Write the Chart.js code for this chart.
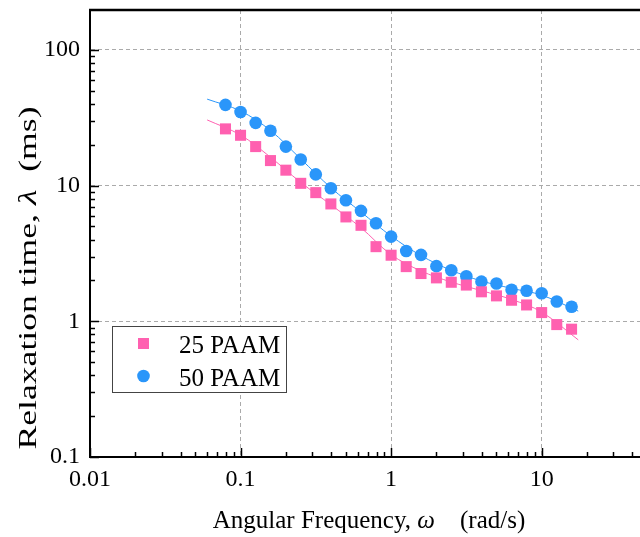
<!DOCTYPE html>
<html>
<head>
<meta charset="utf-8">
<script src="https://cdn.jsdelivr.net/npm/chart.js@4"></script>
<style>
  body { margin: 0; background: #fff; }
  canvas { display: block; }
</style>
</head>
<body>
<canvas id="relax-chart" width="640" height="537"></canvas>
<script>
// angular frequency of the measured points (rad/s)
var omega = [0.0794, 0.1, 0.126, 0.158, 0.2, 0.251, 0.316, 0.398, 0.501, 0.631, 0.794,
             1, 1.26, 1.58, 2, 2.51, 3.16, 3.98, 5.01, 6.31, 7.94, 10, 12.6, 15.8];
var paam25 = [26.2, 23.5, 19.4, 15.3, 13.0, 10.4, 8.88, 7.33, 5.88, 5.10, 3.55,
              3.07, 2.53, 2.25, 2.09, 1.94, 1.85, 1.65, 1.54, 1.43, 1.32, 1.16, 0.946, 0.875];
var paam50 = [39.4, 34.9, 29.0, 25.4, 19.4, 15.6, 12.1, 9.57, 7.80, 6.52, 5.28,
              4.21, 3.30, 3.09, 2.55, 2.38, 2.15, 1.96, 1.90, 1.71, 1.68, 1.61, 1.40, 1.28];

// fitted curves
var fitOmega = [0.06, 0.1, 0.158, 0.25, 0.4, 0.63, 1, 1.58, 2.5, 4, 6.3, 10, 17.5];
var fit25 = [30.5, 23.6, 16.2, 10.6, 7.2, 4.9, 3.1, 2.35, 1.95, 1.68, 1.45, 1.17, 0.73];
var fit50 = [43.4, 35.5, 25.5, 15.8, 9.6, 6.4, 4.25, 3.05, 2.38, 1.98, 1.75, 1.56, 1.19];

var xMajor = [0.01, 0.1, 1, 10];
var yMajor = [0.1, 1, 10, 100];

var PINK = '#FF60B0';
var BLUE = '#2A96FA';
var SERIF = "'Liberation Serif', 'Times New Roman', serif";

function pairs(xs, ys) {
    return xs.map(function(x, i) { return { x: x, y: ys[i] }; });
}

// 1..9 x each decade, kept inside the axis range
function logTicks(min, max) {
    var out = [];
    for (var e = -3; e <= 3; e++) {
        for (var m = 1; m <= 9; m++) {
            var v = parseFloat((m * Math.pow(10, e)).toPrecision(3));
            if (v >= min - 1e-9 && v <= max + 1e-9) out.push(v);
        }
    }
    return out;
}

function isMajor(v, list) {
    return list.some(function(m) { return Math.abs(v - m) < m * 1e-6; });
}

// no extra room for the end labels, the plot box is fixed
function noPad(s) {
    s.paddingTop = 0; s.paddingBottom = 0;
    s.paddingLeft = 0; s.paddingRight = 0;
}

var framePlugin = {
    id: 'frame',
    afterDraw: function(chart) {
        var ctx = chart.ctx;
        var a = chart.chartArea;
        var xs = chart.scales.x, ys = chart.scales.y;
        ctx.save();

        // inward tick marks
        ctx.strokeStyle = '#000';
        ctx.lineWidth = 1.5;
        xs.ticks.forEach(function(t) {
            var px = Math.round(xs.getPixelForValue(t.value)) + 0.5;
            var len = isMajor(t.value, xMajor) ? 9 : 5;
            ctx.beginPath();
            ctx.moveTo(px, a.bottom);
            ctx.lineTo(px, a.bottom - len);
            ctx.stroke();
        });
        ys.ticks.forEach(function(t) {
            var py = Math.round(ys.getPixelForValue(t.value)) + 0.5;
            var len = isMajor(t.value, yMajor) ? 9 : 5;
            ctx.beginPath();
            ctx.moveTo(a.left, py);
            ctx.lineTo(a.left + len, py);
            ctx.stroke();
        });

        // top border
        ctx.lineWidth = 2.5;
        ctx.beginPath();
        ctx.moveTo(a.left - 1, a.top);
        ctx.lineTo(a.right, a.top);
        ctx.stroke();

        // legend box
        ctx.fillStyle = '#fff';
        ctx.fillRect(112.5, 326.5, 174, 66);
        ctx.lineWidth = 1;
        ctx.strokeStyle = '#444';
        ctx.strokeRect(112.5, 326.5, 174, 66);
        ctx.fillStyle = PINK;
        ctx.fillRect(138, 338, 11, 11);
        ctx.fillStyle = BLUE;
        ctx.beginPath();
        ctx.arc(143.5, 376, 6.3, 0, Math.PI * 2);
        ctx.fill();
        ctx.fillStyle = '#000';
        ctx.font = '25px ' + SERIF;
        ctx.textBaseline = 'alphabetic';
        ctx.textAlign = 'left';
        ctx.fillText('25 PAAM', 179, 352.5);
        ctx.fillText('50 PAAM', 179, 385.5);

        // axis titles with italic symbols
        function measureParts(parts) {
            var total = 0;
            parts.forEach(function(p) {
                ctx.font = (p[1] ? 'italic ' : '') + '25px ' + SERIF;
                p.w = ctx.measureText(p[0]).width;
                total += p.w;
            });
            return total;
        }
        function drawParts(parts, cx, cy) {
            var x = cx - measureParts(parts) / 2;
            parts.forEach(function(p) {
                ctx.font = (p[1] ? 'italic ' : '') + '25px ' + SERIF;
                ctx.fillText(p[0], x, cy);
                x += p.w;
            });
        }
        drawParts([['Angular Frequency, ', false], ['\u03C9', true], ['    (rad/s)', false]], 369, 528);

        // the y title is drawn stretched along its length in the original
        var yTitle = [['Relaxation time, ', false], ['\u03BB', true], ['  (ms)', false]];
        var stretch = 343 / measureParts(yTitle);
        ctx.translate(36, 278);
        ctx.rotate(-Math.PI / 2);
        ctx.scale(stretch, 1);
        drawParts(yTitle, 0, 0);

        ctx.restore();
    }
};

new Chart(document.getElementById('relax-chart'), {
    type: 'scatter',
    data: {
        datasets: [
            {
                label: '25 PAAM',
                data: pairs(omega, paam25),
                pointStyle: 'rect',
                pointRadius: 7.8,
                pointHoverRadius: 7.8,
                backgroundColor: PINK,
                borderColor: PINK,
                borderWidth: 0,
                order: 1
            },
            {
                label: '50 PAAM',
                data: pairs(omega, paam50),
                pointStyle: 'circle',
                pointRadius: 6.3,
                pointHoverRadius: 6.3,
                backgroundColor: BLUE,
                borderColor: BLUE,
                borderWidth: 0,
                order: 1
            },
            {
                label: 'fit 25',
                data: pairs(fitOmega, fit25),
                showLine: true,
                pointRadius: 0,
                borderColor: PINK,
                borderWidth: 1,
                tension: 0.35,
                order: 2
            },
            {
                label: 'fit 50',
                data: pairs(fitOmega, fit50),
                showLine: true,
                pointRadius: 0,
                borderColor: BLUE,
                borderWidth: 1,
                tension: 0.35,
                order: 2
            }
        ]
    },
    options: {
        responsive: false,
        animation: false,
        devicePixelRatio: 1,
        layout: { autoPadding: false, padding: { top: 10, right: 0, left: 0, bottom: 0 } },
        plugins: {
            legend: { display: false },
            tooltip: { enabled: false }
        },
        scales: {
            x: {
                type: 'logarithmic',
                min: 0.01,
                max: 45,
                afterFit: function(s) { s.height = 80; noPad(s); },
                afterBuildTicks: function(s) {
                    s.ticks = logTicks(s.min, s.max).map(function(v) { return { value: v }; });
                },
                ticks: {
                    autoSkip: false,
                    maxRotation: 0,
                    padding: 8,
                    color: '#000',
                    font: { family: SERIF, size: 24 },
                    callback: function(v) { return isMajor(v, xMajor) ? String(v) : ''; }
                },
                grid: {
                    drawTicks: false,
                    lineWidth: 1,
                    color: function(c) { return c.tick && isMajor(c.tick.value, xMajor) ? '#aaaaaa' : 'rgba(0,0,0,0)'; }
                },
                border: { display: true, color: '#000', width: 2, dash: [4, 3] }
            },
            y: {
                type: 'logarithmic',
                min: 0.1,
                max: 197,
                afterFit: function(s) { s.width = 90; noPad(s); },
                afterBuildTicks: function(s) {
                    s.ticks = logTicks(s.min, s.max).map(function(v) { return { value: v }; });
                },
                ticks: {
                    autoSkip: false,
                    padding: 10,
                    color: '#000',
                    font: { family: SERIF, size: 24 },
                    callback: function(v) { return isMajor(v, yMajor) ? String(v) : ''; }
                },
                grid: {
                    drawTicks: false,
                    lineWidth: 1,
                    color: function(c) { return c.tick && isMajor(c.tick.value, yMajor) ? '#aaaaaa' : 'rgba(0,0,0,0)'; }
                },
                border: { display: true, color: '#000', width: 2, dash: [4, 3] }
            }
        }
    },
    plugins: [framePlugin]
});
</script>
</body>
</html>
